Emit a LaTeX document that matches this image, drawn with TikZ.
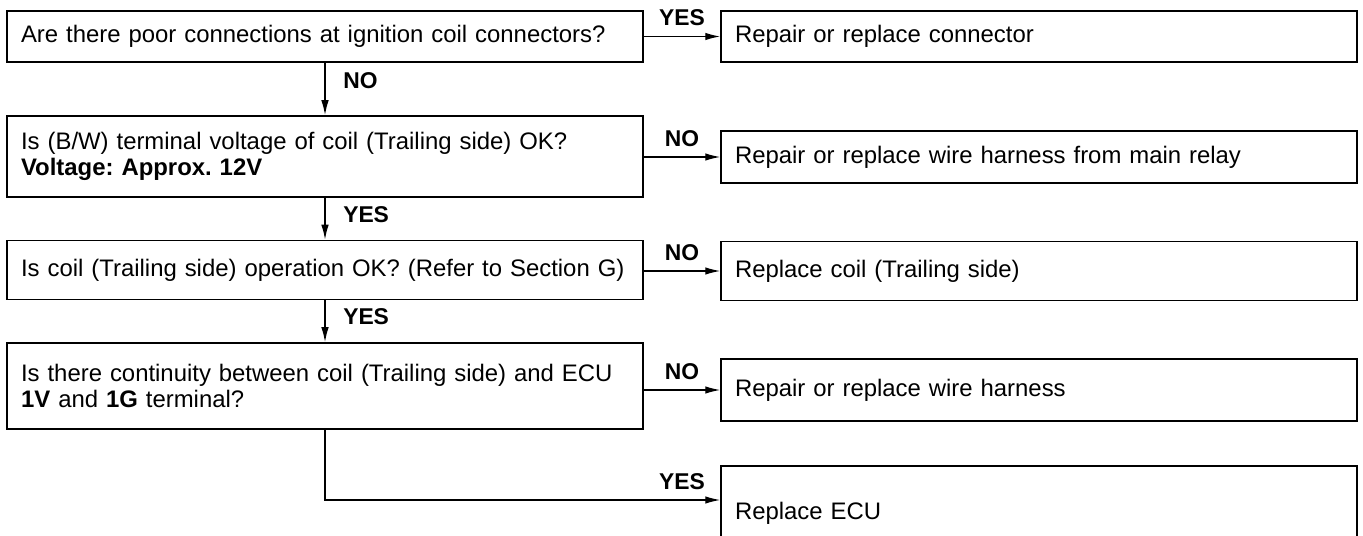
\documentclass[tikz,border=0pt]{standalone}
\usepackage{fontspec}
\setmainfont{Liberation Sans}
\frenchspacing
\usetikzlibrary{arrows.meta,positioning}

\begin{document}
\begin{tikzpicture}[x=0.02cm, y=-0.02cm,
  every node/.style={font=\fontsize{13.6}{14.5}\selectfont},
  qbox/.style={draw, line width=0.9pt, text width=12.16cm, inner xsep=0.28cm, align=left, minimum height=#1},
  lbl/.style={font=\fontsize{13}{13}\selectfont\bfseries, inner sep=1pt},
  link/.style={-{Latex[length=3mm,width=1.5mm]}, line width=0.8pt}]
  \useasboundingbox (0,0) rectangle (1363,536);
  \clip (0,0) rectangle (1363,536);
  % questions (left column)
  \node[qbox=1.02cm] (q1) at (325,36.5) {Are there poor connections at ignition coil connectors?};
  \node[qbox=1.62cm] (q2) at (325,156.5) {Is (B/W) terminal voltage of coil (Trailing side) OK?\\\textbf{Voltage: Approx. 12V}};
  \node[qbox=1.18cm] (q3) at (325,270) {Is coil (Trailing side) operation OK? (Refer to Section G)};
  \node[qbox=1.72cm] (q4) at (325,386) {Is there continuity between coil (Trailing side) and ECU\\\textbf{1V} and \textbf{1G} terminal?};
  % remedies (right column)
  \node[qbox=1.02cm] (r1) at (1039,36.5) {Repair or replace connector};
  \node[qbox=1.04cm] (r2) at (1039,157) {Repair or replace wire harness from main relay};
  \node[qbox=1.18cm] (r3) at (1039,271) {Replace coil (Trailing side)};
  \node[qbox=1.24cm] (r4) at (1039,390) {Repair or replace wire harness};
  \node[qbox=1.88cm] (r5) at (1039,513) {Replace ECU};
  % downward flow
  \draw[link] (q1.south) -- node[lbl, pos=0.35, right=9pt] (no1) {NO} (q2.north);
  \draw[link] (q2.south) -- node[lbl, pos=0.4, right=9pt] (yes2) {YES} (q3.north);
  \draw[link] (q3.south) -- node[lbl, pos=0.38, right=9pt] (yes3) {YES} (q4.north);
  % branches to the right
  \draw[link] (q1.east) -- node[lbl, above=4.5pt] (yes1) {YES} (r1.west);
  \draw[link] (r2.west -| q2.east) -- node[lbl, above=4.5pt] (no2) {NO} (r2.west);
  \draw[link] (r3.west -| q3.east) -- node[lbl, above=4.5pt] (no3) {NO} (r3.west);
  \draw[link] (r4.west -| q4.east) -- node[lbl, above=4.5pt] (no4) {NO} (r4.west);
  \draw[link] (q4.south) |- ([yshift=0.26cm]r5.west);
  \path ([yshift=0.26cm]r5.west -| q4.east) -- node[lbl, above=4.5pt] (yes4) {YES} ([yshift=0.26cm]r5.west);
\end{tikzpicture}
\end{document}
